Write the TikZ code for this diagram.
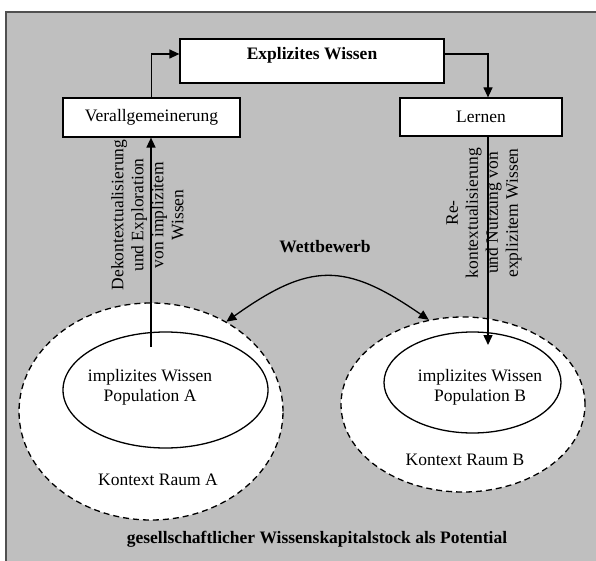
\documentclass[tikz,border=0pt]{standalone}
\usepackage{fontspec}
\setmainfont{Liberation Serif}
\usepackage[svgnames]{xcolor}
\usepackage{tikz}
\usetikzlibrary{positioning, arrows.meta, calc, shapes.geometric}

\definecolor{bggray}{RGB}{191,191,191}
\definecolor{rimgray}{RGB}{80,80,80}

\tikzset{
    wbox/.style={draw=black, fill=white, line width=1.2pt, inner sep=0pt},
    kontext/.style={ellipse, draw=black, fill=white, line width=1.3pt,
        dash pattern=on 6pt off 4pt, inner sep=0pt},
    popell/.style={ellipse, draw=black, fill=white, line width=1.3pt, inner sep=0pt},
    txt/.style={align=center, inner sep=0pt},
    pfeil/.style={line width=1.5pt, -{Triangle[length=10pt,width=9pt]}},
    dpfeil/.style={line width=1.3pt, {Triangle[length=10pt,width=9pt]}-{Triangle[length=10pt,width=9pt]}}
}

\begin{document}
\begin{tikzpicture}[x=1pt, y=-1pt, font=\fontsize{17.5}{20}\selectfont]
    \useasboundingbox (0,0) rectangle (596,561);

    % background
    \fill[bggray] (6,12) rectangle (596,561);
    \draw[rimgray, line width=1.8pt] (6,561) -- (6,12) -- (596,12);

    % boxes
    \node[wbox, minimum width=264pt, minimum height=44pt, text depth=16pt,
          font=\fontsize{17.5}{20}\selectfont\bfseries] (explizit) at (312,61) {Explizites Wissen};
    \node[wbox, minimum width=177pt, minimum height=39pt] (verall) at (151.5,117.5) {Verallgemeinerung};
    \node[wbox, minimum width=162pt, minimum height=38pt] (lernen) at (481,117) {Lernen};

    % context spaces and populations
    \foreach \raum/\cx/\cy/\w/\h/\pop/\px/\py/\pw/\ph in {
        A/151/411.5/264/217/A/165.5/390/205/116,
        B/463/404.5/244/175/B/472.5/382.5/177/101}
    {
        \node[kontext, minimum width=\w pt, minimum height=\h pt] (kontext\raum) at (\cx,\cy) {};
        \node[popell, minimum width=\pw pt, minimum height=\ph pt] (pop\pop) at (\px,\py) {};
    }

    % texts
    \node[txt] (popAtext) at (150,387) {implizites Wissen\\Population A};
    \node[txt] (popBtext) at (480,387) {implizites Wissen\\Population B};
    \node[txt] (raumAtext) at (158,480) {Kontext Raum A};
    \node[txt] (raumBtext) at (465,460) {Kontext Raum B};
    \node[txt, font=\fontsize{17.5}{20}\selectfont\bfseries] (wettbewerb) at (325,247) {Wettbewerb};
    \node[txt, font=\fontsize{17.5}{20}\selectfont\bfseries] (stock) at (317,539)
        {gesellschaftlicher Wissenskapitalstock als Potential};
    \node[txt, rotate=90] (dekon) at (147.5,215)
        {Dekontextualisierung\\und Exploration\\von implizitem\\Wissen};
    \node[txt, rotate=90] (rekon) at (484,213)
        {Re-\\kontextualisierung\\und Nutzung von\\explizitem Wissen};

    % free ends of the vertical arrows
    \coordinate (startA) at (151,347);
    \coordinate (tipB) at (488,345);

    % connectors
    \draw[pfeil, line width=1.2pt] (verall.north) |- ([yshift=7pt]explizit.west);
    \draw[pfeil, line width=1.2pt] ([yshift=7pt]explizit.east) -| (lernen.north -| tipB);
    \draw[pfeil] (startA) -- (verall.south -| startA);
    \draw[pfeil] (lernen.south -| tipB) -- (tipB);
    \draw[dpfeil] (kontextA.50) .. controls (310,262) and (345,262) .. (kontextB.112);
\end{tikzpicture}
\end{document}
